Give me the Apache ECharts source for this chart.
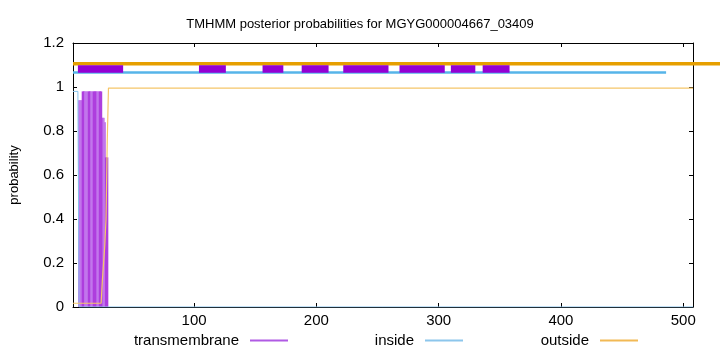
<!DOCTYPE html>
<html>
<head>
<meta charset="utf-8">
<script src="https://cdn.jsdelivr.net/npm/echarts@6/dist/echarts.min.js"></script>
<style>html,body{margin:0;padding:0;background:#fff}#c{width:720px;height:352px}</style>
</head>
<body>
<div id="c"></div>
<script>
// ---- data ----
const titleText = 'TMHMM posterior probabilities for MGYG000004667_03409';
const seqStart = 1;
const seqEnd = 508;
const xTicks = [100, 200, 300, 400, 500];

// transmembrane posterior probability per residue
const tmResidues = [6, 7, 8, 9, 10, 11, 12, 13, 14, 15, 16, 17, 18, 19, 20, 21, 22, 23, 24, 25, 26, 27, 28, 29];
const tmProb =     [0.94, 0.94, 0.94, 0.98, 0.98, 0.98, 0.98, 0.98, 0.98, 0.98, 0.98, 0.98, 0.98, 0.98, 0.98, 0.98, 0.98, 0.98, 0.98, 0.86, 0.86, 0.84, 0.68, 0.68];

// inside posterior probability
const insideResidues = [1, 5, 6, 508];
const insideProb =     [0.98, 0.98, 0.0, 0.0];

// outside posterior probability
const outsideResidues = [1, 24, 25, 26, 27, 28, 29, 30, 508];
const outsideProb =     [0.017, 0.017, 0.12, 0.2, 0.28, 0.4, 0.75, 0.995, 0.995];

// predicted topology bars at the top
const topOutsideRange = [1, 540];
const topOutsideLevel = 1.106;
const topInsideRange = [1, 486];
const topInsideLevel = 1.066;
const topTmStart = [5, 104, 156, 188, 222, 268, 310, 336];
const topTmEnd =   [42, 126, 173, 210, 259, 305, 330, 358];
const topTmLevel = 1.082;

// ---- chart ----
const FONT = 'Liberation Sans';
const W = 720, GL = 73, GR = 27;
const chart = echarts.init(document.getElementById('c'), null, {renderer: 'canvas'});

// second (overlay) grid reaching the right edge of the canvas, same x scale
const extMax = seqStart + (seqEnd - seqStart) * (W - GL) / (W - GL - GR);

const tmSegData = [];
topTmStart.forEach((s, i) => {
  tmSegData.push([s, topTmLevel], [topTmEnd[i], topTmLevel], [null, null]);
});

const axisCommonX = {
  type: 'value', min: seqStart, max: seqEnd,
  splitLine: {show: false},
  axisLine: {show: true, onZero: false, lineStyle: {color: '#000', width: 1}},
};
const axisCommonY = {
  type: 'value', min: 0, max: 1.2, interval: 0.2,
  splitLine: {show: false},
  axisLine: {show: true, onZero: false, lineStyle: {color: '#000', width: 1}},
};
function legendFor(name, color, right) {
  return {
    right: right, top: 328, align: 'right', itemWidth: 38, itemHeight: 2, icon: 'rect',
    textStyle: {fontFamily: FONT, fontSize: 15, color: '#000', padding: [0, 6, 0, 0]},
    data: [{name: name, icon: 'rect', itemStyle: {color: color, borderWidth: 0, opacity: 1},
            lineStyle: {color: color, width: 1.5, opacity: 1}}]
  };
}

chart.setOption({
  animation: false,
  backgroundColor: '#fff',
  title: {
    text: titleText, left: 'center', top: 13,
    textStyle: {fontFamily: FONT, fontSize: 13, fontWeight: 'normal', color: '#000'}
  },
  grid: [
    {left: GL, right: GR, top: 43, bottom: 45},
    {left: GL, right: 0, top: 43, bottom: 45}
  ],
  legend: [
    legendFor('transmembrane', '#b05ae4', 427),
    legendFor('inside', '#8cc6ec', 252),
    legendFor('outside', '#f2b955', 77)
  ],
  xAxis: [
    Object.assign({}, axisCommonX, {
      gridIndex: 0, position: 'bottom',
      axisTick: {show: true, inside: true, length: 4, customValues: xTicks, lineStyle: {color: '#000'}},
      axisLabel: {show: true, customValues: xTicks, margin: 6, fontFamily: FONT, fontSize: 15, color: '#000'}
    }),
    Object.assign({}, axisCommonX, {
      gridIndex: 0, position: 'top',
      axisTick: {show: true, inside: true, length: 4, customValues: xTicks, lineStyle: {color: '#000'}},
      axisLabel: {show: false}
    }),
    {gridIndex: 1, type: 'value', min: seqStart, max: extMax, show: false}
  ],
  yAxis: [
    Object.assign({}, axisCommonY, {
      gridIndex: 0, position: 'left',
      name: 'probability', nameLocation: 'middle', nameGap: 52, nameRotate: 90,
      nameTextStyle: {fontFamily: FONT, fontSize: 13, color: '#000'},
      axisTick: {show: true, inside: true, length: 4, lineStyle: {color: '#000'}},
      axisLabel: {show: true, margin: 9, fontFamily: FONT, fontSize: 15, color: '#000'}
    }),
    Object.assign({}, axisCommonY, {
      gridIndex: 0, position: 'right',
      axisTick: {show: true, inside: true, length: 4, lineStyle: {color: '#000'}},
      axisLabel: {show: false}
    }),
    {gridIndex: 1, type: 'value', min: 0, max: 1.2, show: false}
  ],
  series: [
    {
      name: 'transmembrane', type: 'bar', xAxisIndex: 0, yAxisIndex: 0,
      barWidth: 2.2, z: 2,
      data: tmResidues.map((r, i) => [r, tmProb[i]]),
      itemStyle: {
        color: p => (Math.floor(p.dataIndex * 0.42) % 2 ? '#ae3ede' : '#c276ec')
      }
    },
    {
      name: 'inside', type: 'line', symbol: 'none', z: 3, xAxisIndex: 0, yAxisIndex: 0,
      data: insideResidues.map((r, i) => [r, insideProb[i]]),
      lineStyle: {color: '#86c3ec', width: 1}, itemStyle: {color: '#86c3ec'}
    },
    {
      name: 'outside', type: 'line', symbol: 'none', z: 4, xAxisIndex: 0, yAxisIndex: 0,
      data: outsideResidues.map((r, i) => [r, outsideProb[i]]),
      lineStyle: {color: '#f5c669', width: 1.2}, itemStyle: {color: '#f5c669'}
    },
    {
      name: 'topOutside', type: 'line', symbol: 'none', z: 5, xAxisIndex: 2, yAxisIndex: 2,
      data: topOutsideRange.map(r => [r, topOutsideLevel]),
      lineStyle: {color: '#e69f00', width: 3.5, cap: 'butt'}
    },
    {
      name: 'topInside', type: 'line', symbol: 'none', z: 6, xAxisIndex: 0, yAxisIndex: 0,
      data: topInsideRange.map(r => [r, topInsideLevel]),
      lineStyle: {color: '#56b4e9', width: 2.5, cap: 'butt'}
    },
    {
      name: 'topTM', type: 'line', symbol: 'none', z: 7, connectNulls: false, xAxisIndex: 0, yAxisIndex: 0,
      data: tmSegData,
      lineStyle: {color: '#9400d3', width: 7.5, cap: 'butt'}
    }
  ]
});
</script>
</body>
</html>
